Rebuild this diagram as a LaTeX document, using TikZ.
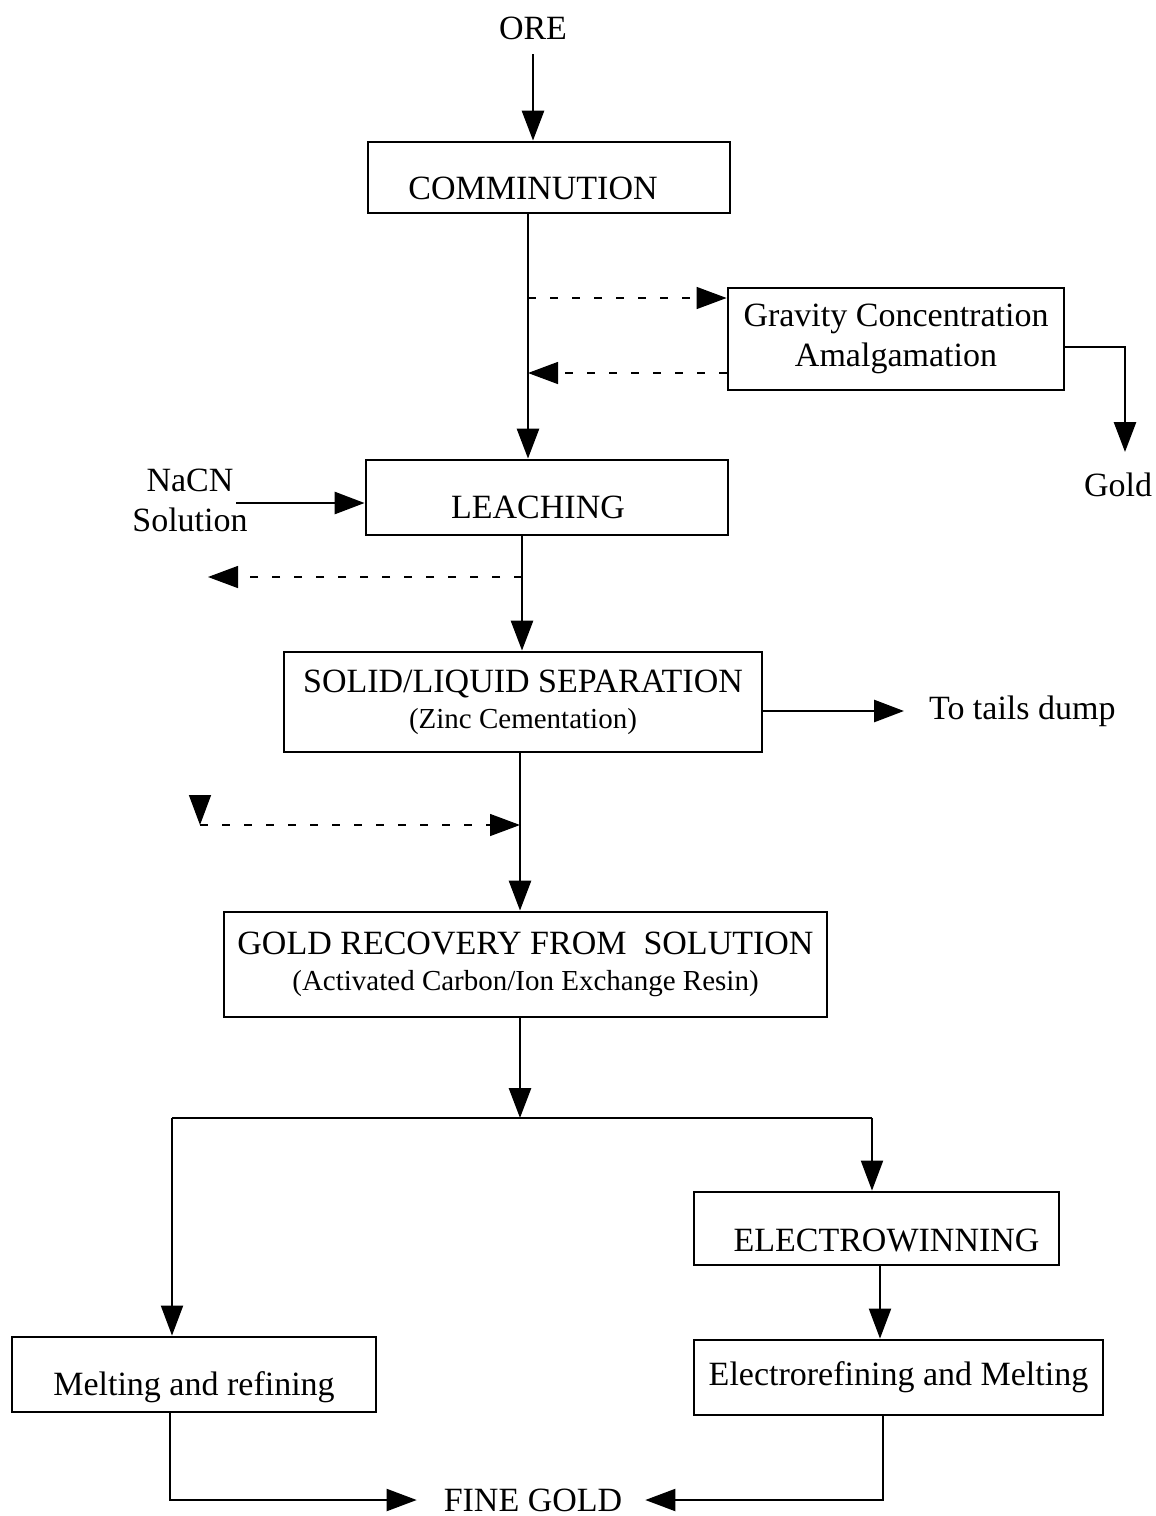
\documentclass[tikz,border=0pt]{standalone}
\usepackage{fontspec}
\setmainfont{Liberation Serif}
\usetikzlibrary{arrows.meta,calc}
\newcommand\subtxt{\fontsize{14.5}{17}\selectfont}
\begin{document}
\begin{tikzpicture}[x=0.5pt,y=-0.5pt,
 box/.style={draw,line width=1.4pt,inner sep=0pt,align=center,font=\fontsize{17}{20}\selectfont},
 lbl/.style={align=center,font=\fontsize{17}{20}\selectfont},
 flow/.style={line width=1.4pt,-{Triangle[length=15pt,width=11pt]}},
 thinflow/.style={line width=1pt,-{Triangle[length=15pt,width=11pt]}},
 dflow/.style={line width=0.7pt,dash pattern=on 4pt off 7pt,-{Triangle[length=15pt,width=11pt]}},
 tiponly/.style={line width=0.7pt,-{Triangle[length=15pt,width=11pt]}}]
\useasboundingbox (0,0) rectangle (1156,1516);

% nodes
\node[lbl] (ore) at (533,28) {ORE};
\node[box,minimum width=181pt,minimum height=35.5pt,text height=22.25pt,text depth=0pt] (comm) at (549,177.5) {\hspace*{-16pt}COMMINUTION};
\node[box,minimum width=168pt,minimum height=51pt] (grav) at (896,339) {Gravity Concentration\\Amalgamation};
\node[lbl] (gold) at (1118,485) {Gold};
\node[lbl,inner sep=2pt] (nacn) at (190,500) {NaCN\\Solution};
\node[box,minimum width=181pt,minimum height=37.5pt,text height=21.25pt,text depth=0pt] (leach) at (547,497.5) {\hspace*{-9pt}LEACHING};
\node[box,minimum width=239pt,minimum height=50pt] (solid) at (523,702) {SOLID/LIQUID SEPARATION\\[-2pt]{\subtxt (Zinc Cementation)}};
\node[lbl,anchor=west] (tails) at (922,711) {To tails dump};
\node[box,minimum width=301.5pt,minimum height=52.5pt] (recov) at (525.5,964.5) {GOLD RECOVERY FROM\ \ SOLUTION\\[-2pt]{\subtxt (Activated Carbon/Ion Exchange Resin)}};
\node[box,minimum width=182.5pt,minimum height=36.5pt,text height=23.25pt,text depth=0pt] (elec) at (876.5,1228.5) {ELECTROWINNING\hspace*{-10pt}};
\node[box,minimum width=204.5pt,minimum height=37.5pt] (eref) at (898.5,1377.5) {Electrorefining and Melting};
\node[box,minimum width=182pt,minimum height=37.5pt,text height=20.9pt,text depth=0pt] (melt) at (194,1374.5) {Melting and refining};
\node[lbl] (fine) at (533,1500) {FINE GOLD};

% coordinates
\coordinate (x1) at (528,0);
\coordinate (m1) at (528,298);
\coordinate (m2) at (528,373);
\coordinate (g1) at (1125,347);
\coordinate (g2) at (1125,452);
\coordinate (x2) at (522,0);
\coordinate (d1) at (522,577);
\coordinate (d1e) at (208,577);
\coordinate (x3) at (520,0);
\coordinate (d2s) at (200,825);
\coordinate (d2t) at (200,795);
\coordinate (d2e) at (520,825);
\coordinate (sp) at (520,1118);
\coordinate (L) at (172,1118);
\coordinate (R) at (872,1118);
\coordinate (x4) at (880,0);
\coordinate (b1) at (170,1500);
\coordinate (b2) at (883,1500);
\coordinate (na) at (0,503);

% connectors
\draw[flow,shorten <=4pt] (ore.south) -- (ore.south |- comm.north);
\draw[flow] (x1 |- comm.south) -- (x1 |- leach.north);
\draw[dflow] (m1) -- (grav.west |- m1);
\draw[dflow] (grav.west |- m2) -- (m2);
\draw[flow] (grav.east |- g1) -- (g1) -- (g2);
\draw[flow,shorten <=-8pt] (nacn.east |- na) -- (leach.west |- na);
\draw[flow] (x2 |- leach.south) -- (x2 |- solid.north);
\draw[dflow] (d1) -- (d1e);
\draw[flow] (solid.east |- tails.west) -- ([xshift=-9pt]tails.west);
\draw[flow] (x3 |- solid.south) -- (x3 |- recov.north);
\draw[tiponly] (d2t) -- (d2s);
\draw[dflow] (d2s) -- (d2e);
\draw[flow] (x3 |- recov.south) -- (sp);
\draw[line width=1pt] (L) -- (R);
\draw[thinflow] (L) -- (L |- melt.north);
\draw[thinflow] (R) -- (R |- elec.north);
\draw[thinflow] (x4 |- elec.south) -- (x4 |- eref.north);
\draw[thinflow,shorten >=10pt] (b1 |- melt.south) -- (b1) -- (fine.west);
\draw[thinflow,shorten >=8pt] (b2 |- eref.south) -- (b2) -- (fine.east);
\end{tikzpicture}
\end{document}
